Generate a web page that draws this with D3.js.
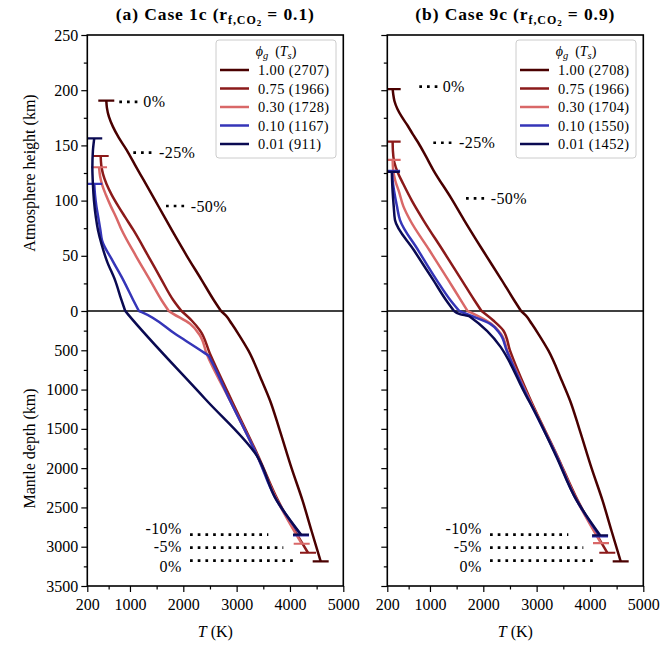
<!DOCTYPE html>
<html><head><meta charset="utf-8">
<script src="https://cdn.jsdelivr.net/npm/d3@7"></script>
<style>body{margin:0;background:#fff}text{font-family:"Liberation Serif","Times New Roman",serif;fill:#000}</style>
</head><body>
<svg id="c" width="669" height="648" xmlns="http://www.w3.org/2000/svg"></svg>
<script>
// ---------- DATA ----------
const phiLabels = ["1.00", "0.75", "0.30", "0.10", "0.01"];
const surfaceT_1c = [2707, 1966, 1728, 1167, 911];
const surfaceT_9c = [2708, 1966, 1704, 1550, 1452];
const xTicks = [200, 1000, 2000, 3000, 4000, 5000];
const xMinorTicks = [600, 1500, 2500, 3500, 4500];
const atmTicks = [0, 50, 100, 150, 200, 250];
const atmMinorTicks = [25, 75, 125, 175, 225];
const mantleTicks = [500, 1000, 1500, 2000, 2500, 3000, 3500];
const mantleMinorTicks = [250, 750, 1250, 1750, 2250, 2750, 3250];

// atmosphere profiles: [height km, T K]
const atm1c_100 = [[190.5,556],[184,568],[176,605],[167,680],[157,790],[145.8,939],[130,1120],[118.7,1255],[95.1,1531],[73.4,1783],[50,2065],[28,2345],[10,2570],[0,2707]];
const atm1c_075 = [[140.4,451],[132,462],[124,495],[115,560],[105,660],[95,780],[85,910],[73.4,1063],[50,1340],[28,1595],[10,1810],[0,1966]];
const atm1c_030 = [[130.2,420],[122,440],[114,480],[105,550],[95,640],[85,740],[73.4,845],[50,1110],[28,1376],[10,1590],[0,1728]];
const atm1c_010 = [[115.2,330],[105,345],[95,370],[85,405],[73.4,445],[64,476],[45,680],[28,875],[10,1060],[0,1167]];
const atm1c_001 = [[156.4,330],[145,305],[130,295],[115,305],[100,325],[85,360],[73.4,400],[60,470],[45,570],[28,720],[10,840],[0,911]];
// mantle profiles: [depth km, T K]
const man1c_100 = [[0,2707],[60,2800],[163,2908],[300,3040],[502,3219],[884,3470],[1139,3626],[1500,3800],[2000,4030],[2411,4235],[2800,4405],[3187,4576]];
const man1c_075 = [[0,1966],[121,2157],[248,2313],[545,2500],[1139,2907],[1838,3400],[2411,3775],[3077,4338]];
const man1c_030 = [[0,1728],[36,1812],[163,2126],[312,2313],[545,2438],[1139,2876],[1838,3383],[2411,3760],[2962,4220]];
const man1c_010 = [[0,1167],[15,1220],[300,1865],[530,2390],[566,2469],[610,2505],[1139,2876],[1838,3383],[2411,3751],[2855,4207]];
const man1c_001 = [[0,911],[40,960],[1117,2407],[1838,3375],[2411,3751],[2845,4207]];

const atm9c_100 = [[201,301],[196,312],[190,335],[183,390],[176,470],[168,580],[160,680],[152.4,781],[140,925],[127.7,1063],[102,1400],[82.4,1640],[55,1990],[28,2345],[10,2575],[0,2708]];
const atm9c_075 = [[153.4,300],[145,305],[135,330],[125,400],[115,500],[100,660],[82.4,875],[55,1240],[28,1595],[10,1830],[0,1966]];
const atm9c_030 = [[136.8,300],[128,310],[118,350],[108,420],[95,500],[82.4,626],[55,990],[28,1345],[10,1575],[0,1704]];
const atm9c_010 = [[127,290],[118,300],[108,330],[95,380],[82.4,438],[55,780],[28,1126],[10,1380],[0,1550]];
const atm9c_001 = [[126,285],[118,290],[108,300],[95,320],[82.4,344],[55,700],[28,1063],[10,1300],[0,1452]];
const man9c_100 = [[0,2708],[60,2800],[163,2908],[300,3040],[502,3219],[884,3470],[1139,3626],[1500,3800],[2000,4030],[2411,4235],[2800,4405],[3187,4576]];
const man9c_075 = [[0,1966],[121,2188],[248,2375],[503,2500],[1117,2876],[1838,3383],[2411,3770],[3077,4325]];
const man9c_030 = [[0,1704],[30,1800],[163,2150],[290,2330],[503,2450],[1117,2860],[1838,3375],[2411,3755],[2954,4207]];
const man9c_010 = [[0,1550],[57,1755],[163,2130],[290,2313],[503,2438],[1117,2845],[1838,3370],[2411,3751],[2870,4188]];
const man9c_001 = [[0,1452],[40,1560],[70,1744],[1117,2835],[1838,3360],[2411,3751],[2855,4190]];

// annotations (data units)
const notesAtm1c = [{t:"0%",h:189.5,T0:800,T1:1160,Tt:1250},{t:"-25%",h:143.4,T0:1063,T1:1420,Tt:1545},{t:"-50%",h:95.1,T0:1676,T1:2040,Tt:2139}];
const notesAtm9c = [{t:"0%",h:203.2,T0:800,T1:1160,Tt:1238},{t:"-25%",h:152.4,T0:1063,T1:1420,Tt:1545},{t:"-50%",h:102,T0:1676,T1:2040,Tt:2139}];
const notesMantle = [{t:"-10%",d:2846,T1:3594,dt:2761},{t:"-5%",d:3011,T1:3875,dt:2995},{t:"0%",d:3177,T1:4126,dt:3245}];
const notesMantleTextT = 1970, notesMantleLineT0 = 2126;

// ---------- DRAW ----------
const colors = ["#4a0000","#8b1a1a","#d96868","#3535b8","#0a0a52"];
const svg = d3.select("#c");
const PW = 256, yTopPx = 35, yMidPx = 311, yBotPx = 586;
const yTop = d3.scaleLinear().domain([0,250]).range([yMidPx, yTopPx]);
const yBot = d3.scaleLinear().domain([0,3500]).range([yMidPx, yBotPx]);
const FS = 16;

const panels = [
  {x0:87.3, letter:"(a) Case 1c (", val:"0.1)", atm:[atm1c_100,atm1c_075,atm1c_030,atm1c_010,atm1c_001], man:[man1c_100,man1c_075,man1c_030,man1c_010,man1c_001], surf:surfaceT_1c, notes:notesAtm1c, labels:true},
  {x0:387.3, letter:"(b) Case 9c (", val:"0.9)", atm:[atm9c_100,atm9c_075,atm9c_030,atm9c_010,atm9c_001], man:[man9c_100,man9c_075,man9c_030,man9c_010,man9c_001], surf:surfaceT_9c, notes:notesAtm9c, labels:false}
];

panels.forEach(p => {
  const x = d3.scaleLinear().domain([200,5000]).range([p.x0, p.x0+PW]);
  const g = svg.append("g");
  const clipId = "clip"+Math.round(p.x0);
  svg.append("clipPath").attr("id",clipId).append("rect").attr("x",p.x0).attr("y",yTopPx).attr("width",PW).attr("height",yBotPx-yTopPx);
  const plot = g.append("g").attr("clip-path",`url(#${clipId})`);

  plot.append("line").attr("x1",p.x0).attr("x2",p.x0+PW).attr("y1",yMidPx).attr("y2",yMidPx).attr("stroke","#000").attr("stroke-width",1.6);

  const lineA = d3.line().x(d=>x(d[1])).y(d=>yTop(d[0])).curve(d3.curveMonotoneY);
  const lineM = d3.line().x(d=>x(d[1])).y(d=>yBot(d[0])).curve(d3.curveMonotoneY);
  p.atm.forEach((a,i) => {
    const m = p.man[i];
    plot.append("path").attr("d",lineA(a)).attr("fill","none").attr("stroke",colors[i]).attr("stroke-width",2.5);
    plot.append("path").attr("d",lineM(m)).attr("fill","none").attr("stroke",colors[i]).attr("stroke-width",2.5);
    const top = a[0], bot = m[m.length-1];
    plot.append("line").attr("x1",x(top[1]-150)).attr("x2",x(top[1]+150)).attr("y1",yTop(top[0])).attr("y2",yTop(top[0])).attr("stroke",colors[i]).attr("stroke-width",2.2);
    plot.append("line").attr("x1",x(bot[1]-150)).attr("x2",x(bot[1]+150)).attr("y1",yBot(bot[0])).attr("y2",yBot(bot[0])).attr("stroke",colors[i]).attr("stroke-width",2.2);
  });

  p.notes.forEach(n => {
    g.append("line").attr("x1",x(n.T0)).attr("x2",x(n.T1)).attr("y1",yTop(n.h)).attr("y2",yTop(n.h))
      .attr("stroke","#000").attr("stroke-width",2.7).attr("stroke-dasharray","2.7 5");
    g.append("text").attr("x",x(n.Tt)).attr("y",yTop(n.h)).attr("dy","0.35em").attr("font-size",FS).attr("letter-spacing",0.4).text(n.t);
  });
  notesMantle.forEach(n => {
    g.append("line").attr("x1",x(notesMantleLineT0)).attr("x2",x(n.T1)).attr("y1",yBot(n.d)).attr("y2",yBot(n.d))
      .attr("stroke","#000").attr("stroke-width",2.7).attr("stroke-dasharray","2.7 5");
    g.append("text").attr("x",x(notesMantleTextT)).attr("y",yBot(n.dt)).attr("dy","0.35em").attr("text-anchor","end").attr("font-size",FS).attr("letter-spacing",0.4).text(n.t);
  });

  // legend
  const lx = p.x0+128.7, ly = 40, lw = 120, lh = 118;
  const lg = g.append("g");
  lg.append("rect").attr("x",lx).attr("y",ly).attr("width",lw).attr("height",lh).attr("rx",3)
    .attr("fill","#fff").attr("fill-opacity",0.85).attr("stroke","#cccccc").attr("stroke-width",1);
  const lt = lg.append("text").attr("x",lx+lw/2).attr("y",ly+16).attr("text-anchor","middle").attr("font-size",14);
  lt.append("tspan").attr("font-style","italic").text("ϕ");
  lt.append("tspan").attr("font-style","italic").attr("font-size",10.5).attr("dy",3).text("g");
  lt.append("tspan").attr("dy",-3).text("\u00a0\u00a0(");
  lt.append("tspan").attr("font-style","italic").text("T");
  lt.append("tspan").attr("font-style","italic").attr("font-size",10.5).attr("dy",3).text("s");
  lt.append("tspan").attr("dy",-3).text(")");
  phiLabels.forEach((ph,i) => {
    const yy = ly + 30 + i*18.5;
    lg.append("line").attr("x1",lx+4).attr("x2",lx+33).attr("y1",yy).attr("y2",yy).attr("stroke",colors[i]).attr("stroke-width",2.5);
    lg.append("text").attr("x",lx+42).attr("y",yy).attr("dy","0.35em").attr("font-size",14.4).attr("letter-spacing",0.4).text(`${ph} (${p.surf[i]})`);
  });

  // axes
  const xAxis = g.append("g").attr("transform",`translate(0,${yBotPx})`);
  xAxis.call(d3.axisBottom(x).tickValues(xTicks).tickSize(6).tickSizeOuter(0).tickFormat(d3.format("d")));
  xAxis.append("g").call(d3.axisBottom(x).tickValues(xMinorTicks).tickSize(3.5).tickSizeOuter(0).tickFormat(""));
  xAxis.selectAll("text").attr("font-size",FS).attr("font-family",null).attr("dy","0.95em");
  const yA = g.append("g").attr("transform",`translate(${p.x0},0)`);
  yA.call(d3.axisLeft(yTop).tickValues(atmTicks).tickSize(6).tickSizeOuter(0).tickFormat(p.labels? d3.format("d") : ""));
  yA.append("g").call(d3.axisLeft(yTop).tickValues(atmMinorTicks).tickSize(3.5).tickSizeOuter(0).tickFormat(""));
  yA.append("g").call(d3.axisLeft(yBot).tickValues(mantleTicks).tickSize(6).tickSizeOuter(0).tickFormat(p.labels? d3.format("d") : ""));
  yA.append("g").call(d3.axisLeft(yBot).tickValues(mantleMinorTicks).tickSize(3.5).tickSizeOuter(0).tickFormat(""));
  g.selectAll(".domain").remove();
  g.selectAll(".tick line").attr("stroke","#000").attr("stroke-width",1.2);
  yA.selectAll("text").attr("font-size",FS).attr("font-family",null).attr("x",-9);
  g.selectAll(".tick text").attr("fill","#000");

  g.append("rect").attr("x",p.x0).attr("y",yTopPx).attr("width",PW).attr("height",yBotPx-yTopPx).attr("fill","none").attr("stroke","#000").attr("stroke-width",1.6);

  // title
  const cx = p.x0 + PW/2;
  const t = g.append("text").attr("x",cx).attr("y",20).attr("text-anchor","middle").attr("font-size",17.5).attr("font-weight","bold").attr("letter-spacing",0.9);
  t.append("tspan").text(p.letter + "r");
  t.append("tspan").attr("font-size",12).attr("dy",3.5).text("f,CO");
  t.append("tspan").attr("font-size",9).attr("dy",2).text("2");
  t.append("tspan").attr("dy",-5.5).text(" = " + p.val);

  const xl = g.append("text").attr("x",cx).attr("y",637).attr("text-anchor","middle").attr("font-size",FS);
  xl.append("tspan").attr("font-style","italic").text("T");
  xl.append("tspan").text(" (K)");
});

svg.append("text").attr("transform",`translate(29,${(yTopPx+yMidPx)/2}) rotate(-90)`).attr("text-anchor","middle").attr("dy","0.35em").attr("font-size",FS).text("Atmosphere height (km)");
svg.append("text").attr("transform",`translate(29,${(yMidPx+yBotPx)/2}) rotate(-90)`).attr("text-anchor","middle").attr("dy","0.35em").attr("font-size",FS).text("Mantle depth (km)");
</script>
</body></html>
